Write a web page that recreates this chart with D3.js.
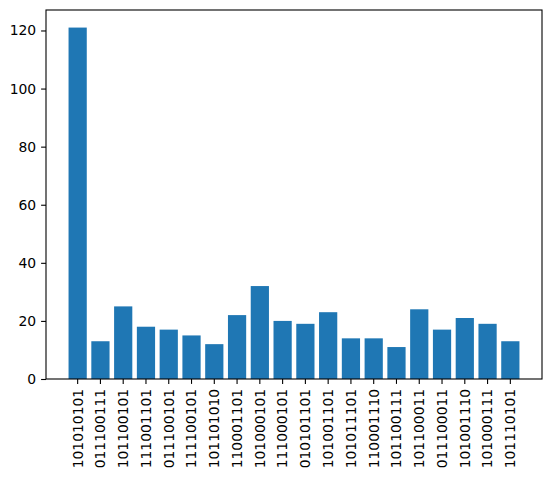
<!DOCTYPE html>
<html lang="en">
<head>
  <meta charset="UTF-8">
  <title>D3</title>
  <script src="https://cdn.jsdelivr.net/npm/d3@7/dist/d3.min.js"></script>
  <style>
    html, body { margin: 0; padding: 0; background: #fff; }
    svg { display: block; }
    .bar { fill: #1f77b4; }
    text { font-family: "DejaVu Sans", sans-serif; font-size: 13.9px; fill: #000; }
  </style>
</head>
<body>
  <svg width="552" height="478"></svg>
  <script>
    const categories = ['101010101', '011100111', '101100101', '111001101', '011100101',
      '111100101', '101101010', '110001101', '101000101', '111000101',
      '010101101', '101001101', '101011101', '110001110', '101100111',
      '101100011', '011100011', '101001110', '101000111', '101110101']
    const values = [121, 13, 25, 18, 17, 15, 12, 22, 32, 20, 19, 23, 14, 14, 11, 24, 17, 21, 19, 13]
    const yTicks = [0, 20, 40, 60, 80, 100, 120]

    const plotLeft = 46, plotRight = 542, plotTop = 10, plotBottom = 379
    const tickLen = 4.9, pad = 4.9

    const svg = d3.select('svg')

    const x = d3.scaleBand()
      .domain(categories)
      .range([plotLeft, plotRight])
      .paddingInner(0.2)
      .paddingOuter(0.99)

    const y = d3.scaleLinear()
      .domain([0, d3.max(values) * 1.05])
      .range([plotBottom, plotTop])

    svg.selectAll('.bar')
      .data(values)
      .enter()
      .append('rect')
      .attr('class', 'bar')
      .attr('x', (d, i) => x(categories[i]))
      .attr('y', d => y(d))
      .attr('width', x.bandwidth())
      .attr('height', d => y(0) - y(d))

    // y axis
    const yAxis = svg.append('g')
      .attr('transform', `translate(${plotLeft},0)`)
      .call(d3.axisLeft(y).tickValues(yTicks).tickSize(tickLen).tickPadding(pad))
    yAxis.select('.domain').remove()
    yAxis.selectAll('line').attr('stroke', '#000').attr('stroke-width', 1.1)
    yAxis.selectAll('text')
      .style('font-family', '"DejaVu Sans", sans-serif')
      .style('font-size', '13.9px')
      .attr('fill', '#000')

    // x axis
    const xAxis = svg.append('g')
      .attr('transform', `translate(0,${plotBottom})`)
      .call(d3.axisBottom(x).tickSize(tickLen).tickPadding(pad))
    xAxis.select('.domain').remove()
    xAxis.selectAll('line').attr('stroke', '#000').attr('stroke-width', 1.1)
    xAxis.selectAll('text')
      .style('font-family', '"DejaVu Sans", sans-serif')
      .style('font-size', '13.9px')
      .attr('fill', '#000')
      .attr('text-anchor', 'end')
      .attr('y', 0)
      .attr('dy', '0.35em')
      .attr('transform', `translate(0,${tickLen + pad}) rotate(-90)`)

    // frame
    svg.append('rect')
      .attr('x', plotLeft)
      .attr('y', plotTop)
      .attr('width', plotRight - plotLeft)
      .attr('height', plotBottom - plotTop)
      .attr('fill', 'none')
      .attr('stroke', '#000')
      .attr('stroke-width', 1.1)
  </script>
</body>
</html>
